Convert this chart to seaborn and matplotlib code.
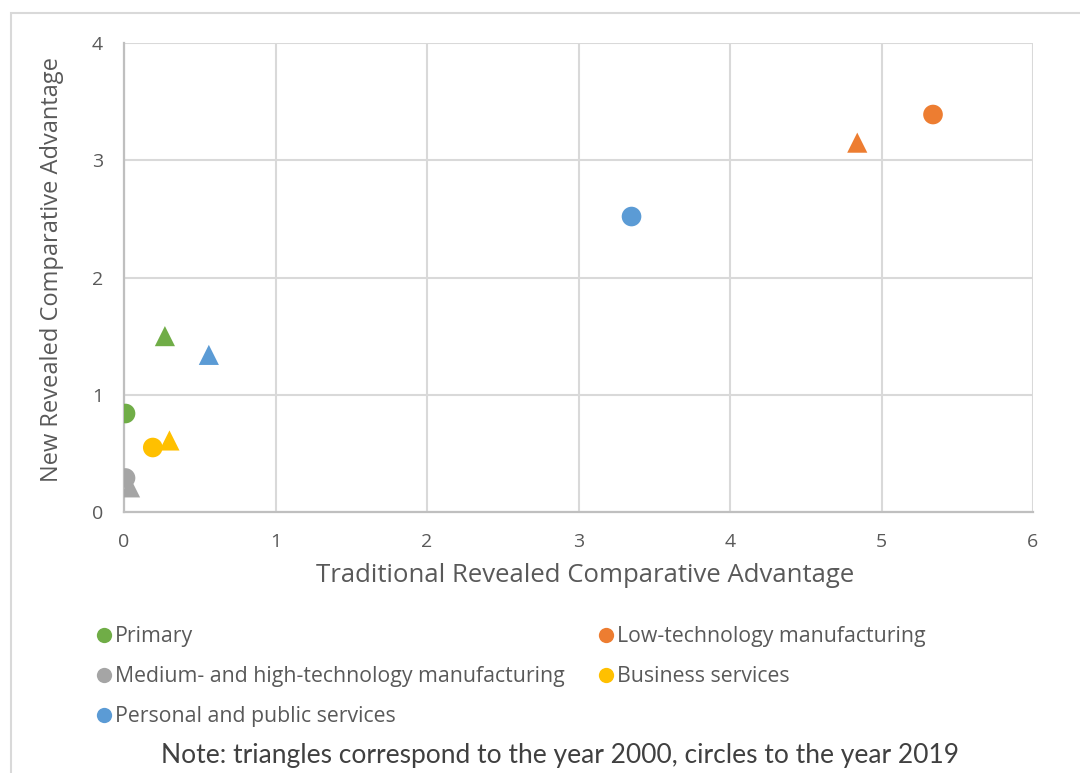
import matplotlib
matplotlib.use("Agg")
import matplotlib.pyplot as plt
from matplotlib.lines import Line2D
from matplotlib.patches import Rectangle
import pandas as pd
import seaborn as sns

# Sectors and their revealed comparative advantage indices
sectors = [
    "Primary",
    "Low-technology manufacturing",
    "Medium- and high-technology manufacturing",
    "Business services",
    "Personal and public services",
]
colors = ["#70AD47", "#ED7D31", "#A5A5A5", "#FFC000", "#5B9BD5"]

trad_2000 = [0.27, 4.84, 0.04, 0.30, 0.56]
new_2000 = [1.50, 3.15, 0.21, 0.61, 1.34]
trad_2019 = [0.01, 5.34, 0.01, 0.19, 3.35]
new_2019 = [0.84, 3.39, 0.29, 0.55, 2.52]

x_ticks = [0, 1, 2, 3, 4, 5, 6]
y_ticks = [0, 1, 2, 3, 4]

df = pd.concat([
    pd.DataFrame({"sector": sectors, "trad": trad_2000, "new": new_2000, "year": "2000"}),
    pd.DataFrame({"sector": sectors, "trad": trad_2019, "new": new_2019, "year": "2019"}),
])

sns.set_theme(style="white")
plt.rcParams["font.family"] = ["Open Sans", "DejaVu Sans"]
text_col = "#595959"

fig = plt.figure(figsize=(10.8, 7.73), dpi=100)
ax = fig.add_axes([124 / 1080, 1 - 512 / 773, (1033 - 124) / 1080, (512 - 43) / 773])

palette = dict(zip(sectors, colors))
sns.scatterplot(data=df[df.year == "2019"], x="trad", y="new", hue="sector",
                palette=palette, marker="o", s=200, linewidth=0,
                legend=False, ax=ax, zorder=3)
sns.scatterplot(data=df[df.year == "2000"], x="trad", y="new", hue="sector",
                palette=palette, marker="^", s=210, linewidth=0,
                legend=False, ax=ax, zorder=3)

ax.set_xlim(0, 6)
ax.set_ylim(0, 4)
ax.set_xticks(x_ticks)
ax.set_yticks(y_ticks)
ax.set_xticklabels([str(v) for v in x_ticks])
ax.set_yticklabels([str(v) for v in y_ticks])
ax.grid(True, color="#D9D9D9", linewidth=1.5)
ax.set_axisbelow(True)
for side in ["top", "right"]:
    ax.spines[side].set_visible(False)
for side in ["left", "bottom"]:
    ax.spines[side].set_color("#BFBFBF")
    ax.spines[side].set_linewidth(1.6)
ax.tick_params(axis="x", length=0, labelsize=14, colors=text_col, pad=15)
ax.tick_params(axis="y", length=0, labelsize=14, colors=text_col, pad=15)

ax.set_xlabel("Traditional Revealed Comparative Advantage", fontsize=18.5,
              color=text_col)
ax.set_ylabel("New Revealed Comparative Advantage", fontsize=17,
              color=text_col)
ax.xaxis.set_label_coords(0.507, -0.108)
ax.yaxis.set_label_coords(-0.066, 0.516)

# Legend: circles in the sector colours, two columns under the plot
def handle(c):
    return Line2D([0], [0], marker="o", linestyle="", markerfacecolor=c,
                  markeredgewidth=0, markersize=11)

left_idx = [0, 2, 4]
right_idx = [1, 3]
leg_kw = dict(frameon=False, fontsize=15.3, handletextpad=0.15, labelspacing=0.9,
              labelcolor=text_col, handlelength=0.8, borderaxespad=0, borderpad=0)
leg1 = fig.legend([handle(colors[i]) for i in left_idx], [sectors[i] for i in left_idx],
                  loc="upper left", bbox_to_anchor=(95 / 1080, 1 - 626 / 773), **leg_kw)
leg2 = fig.legend([handle(colors[i]) for i in right_idx], [sectors[i] for i in right_idx],
                  loc="upper left", bbox_to_anchor=(597 / 1080, 1 - 626 / 773), **leg_kw)

fig.text(560 / 1080, 1 - 756 / 773,
         "Note: triangles correspond to the year 2000, circles to the year 2019",
         ha="center", va="center", fontsize=19, color="#404040",
         family=["Lato", "DejaVu Sans"])

# Light border around the chart area
fig.add_artist(Rectangle((11 / 1080, -0.05), 1.2, 1 - 13 / 773 + 0.05,
                         transform=fig.transFigure, fill=False,
                         edgecolor="#D9D9D9", linewidth=1.5))

fig.savefig("out.png", dpi=100, facecolor="white")
